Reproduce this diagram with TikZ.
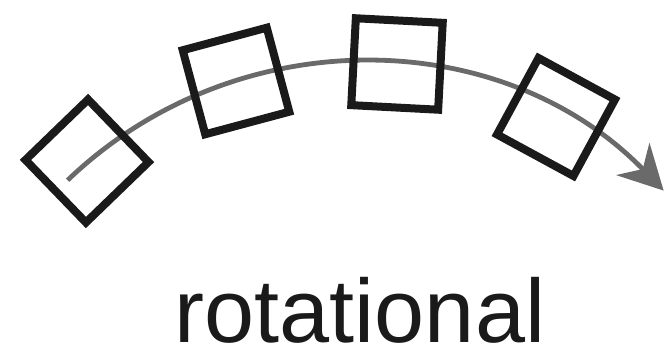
\documentclass[tikz,border=0pt]{standalone}
\usepackage{fontspec}
\setmainfont{Liberation Sans}
\usetikzlibrary{arrows.meta,calc}
\definecolor{arcgray}{HTML}{6A6A6A}
\definecolor{boxblack}{HTML}{1A1A1A}
\begin{document}
\begin{tikzpicture}[x=0.5pt,y=0.5pt,
  tile/.style={draw=boxblack,line width=4pt,minimum size=43.5pt,inner sep=0pt,shape=rectangle,line join=miter},
  path arc/.style={draw=arcgray,line width=2.4pt,-{Stealth[length=22pt,width=23pt,inset=7pt]}},
  caption/.style={font=\fontsize{45}{54}\selectfont,text=boxblack,inner sep=0pt,text depth=0pt}]
\useasboundingbox (0,0) rectangle (666,357);
\coordinate (c) at (360.4,-128.5);
\coordinate (s) at ($(c)+(133.8:423)$);
\draw[path arc] (s) arc[start angle=133.8,end angle=44.2,radius=423];
\node[tile,rotate=44] (t1) at (87,196) {};
\node[tile,rotate=15] (t2) at (236,276) {};
\node[tile,rotate=-3] (t3) at (397,293) {};
\node[tile,rotate=-28.5] (t4) at (556,240) {};
\node[caption,anchor=base] (lbl) at (360,14) {rotational};
\end{tikzpicture}
\end{document}
